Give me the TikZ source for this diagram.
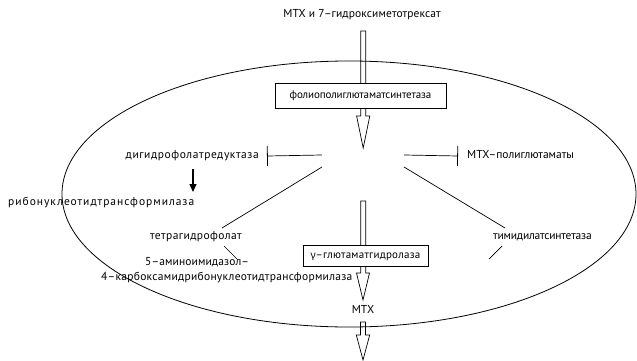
\documentclass[tikz,border=0pt]{standalone}
\usepackage{fontspec}
\setmainfont{PT Sans}
\newfontfamily\grk{Noto Sans}
\usetikzlibrary{arrows.meta}
\tikzset{
  lbl/.style={inner sep=0pt, text height=7.5pt, text depth=2pt, font=\fontsize{11.5}{13}\selectfont},
  st/.style={font=\fontsize{11.5}{13}\selectfont\addfontfeatures{LetterSpace=#1}},
  bx/.style={font=\fontsize{11}{13}\selectfont\addfontfeatures{LetterSpace=#1}},
  enz/.style={lbl, draw, line width=0.8pt, fill=white, minimum height=#1, inner xsep=0pt},
  thin/.style={line width=0.7pt},
  inhib/.style={thin, -{Bar[width=20pt,line width=0.8pt]}},
  openarrow/.style={line width=0.7pt, line join=miter},
}
\begin{document}
\begin{tikzpicture}[x=1pt,y=-1pt]
\useasboundingbox (0,0) rectangle (637,361);
% cell
\draw[line width=0.8pt] (349,194) ellipse [x radius=287, y radius=133];
% open arrows
\draw[openarrow] (360.7,31) -- (360.7,116) -- (356.6,116) -- (363.2,148) -- (369.8,116) -- (365.7,116) -- (365.7,31) -- cycle;
\draw[openarrow] (360.7,201) -- (360.7,273) -- (356.5,273) -- (363,300) -- (369.5,273) -- (365.7,273) -- (365.7,201) -- cycle;
\draw[openarrow] (360.5,322) -- (360.5,335) -- (356.3,335) -- (363,360) -- (369.7,335) -- (365.5,335) -- (365.5,322) -- cycle;
% texts
\node[lbl, st=0.9] (src) at (362,15) {МТХ и 7–гидроксиметотрексат};
\node[enz=25pt, minimum width=171pt, bx=-1] (fpgs) at (360.5,95.5) {фолиополиглютаматсинтетаза};
\node[enz=21pt, minimum width=125pt, bx=2.4] (ggh) at (365.5,255.5) {{\grk\fontsize{10}{12}\selectfont γ}–глютаматгидролаза};
\node[lbl] (mtx) at (363,311) {МТХ};
\node[lbl, anchor=east, st=5] (dhfr) at (259,156) {дигидрофолатредуктаза};
\node[lbl, anchor=west, st=0] (mtxpg) at (467,156) {МТХ–полиглютаматы};
\node[lbl, anchor=west, st=8.5] (rnt) at (8,203) {рибонуклеотидтрансформилаза};
\node[lbl, anchor=west, st=3.5] (thf) at (150,237) {тетрагидрофолат};
\node[lbl, anchor=west, st=-1.7] (ts) at (493,237) {тимидилатсинтетаза};
\node[lbl, anchor=west, st=1] (aic1) at (145,263) {5–аминоимидазол–};
\node[lbl, anchor=west, st=2.4] (aic2) at (101,278) {4–карбоксамидрибонуклеотидтрансформилаза};
% connectors
\coordinate (hl) at (322,155);
\coordinate (hr) at (404,155);
\coordinate (dl) at (322,167);
\coordinate (dr) at (404,167);
\coordinate (thfe) at (222,228);
\coordinate (tse) at (505,228);
\draw[inhib] (hl) -- (dhfr.east -| 267,0);
\draw[inhib] (hr) -- (mtxpg.west -| 458,0);
\draw[thin] (dl) -- (thfe);
\draw[thin] (dr) -- (tse);
\draw[thin] (224,246) -- (237,259);
\draw[thin] (502,246) -- (489,259);
\draw[line width=1.2pt, -{Triangle[width=7pt,length=8pt]}] (193,169) -- (193,192);
\end{tikzpicture}
\end{document}
